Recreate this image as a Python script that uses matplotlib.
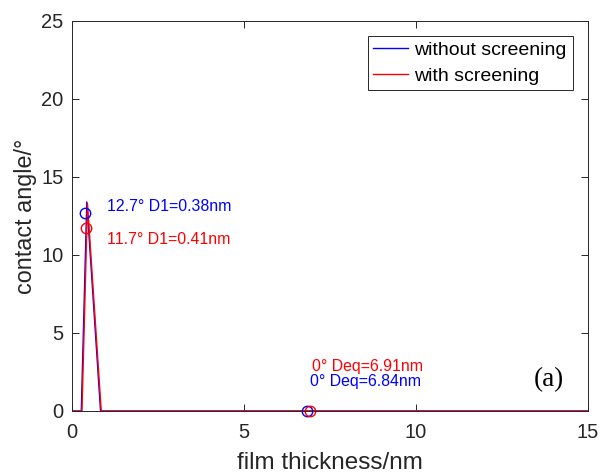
import matplotlib
matplotlib.use("Agg")
import matplotlib.pyplot as plt

# data
x_without = [0.0, 0.27, 0.43, 0.83, 15.0]
y_without = [0.0, 0.0, 13.4, 0.0, 0.0]
x_with = [0.0, 0.29, 0.45, 0.85, 15.0]
y_with = [0.0, 0.0, 13.3, 0.0, 0.0]

d1_without, th1_without = 0.38, 12.7
d1_with, th1_with = 0.41, 11.7
deq_without, deq_with = 6.84, 6.91

xticks = [0, 5, 10, 15]
yticks = [0, 5, 10, 15, 20, 25]

plt.rcParams['font.family'] = ['Liberation Sans', 'DejaVu Sans']

fig = plt.figure(figsize=(6.01, 4.75), dpi=100)
ax = fig.add_axes([72/601, 1-411/475, (588-72)/601, (411-21)/475])

ax.plot(x_without, y_without, color='blue', lw=1.0, label='without screening')
ax.plot(x_with, y_with, color='red', lw=1.0, label='with screening')

ax.plot([d1_without], [th1_without], 'o', mfc='none', mec='blue', ms=7.5)
ax.plot([d1_with], [th1_with], 'o', mfc='none', mec='red', ms=7.5)
ax.plot([deq_without], [0], 'o', mfc='none', mec='blue', ms=7.5, clip_on=False)
ax.plot([deq_with], [0], 'o', mfc='none', mec='red', ms=7.5, clip_on=False)

ax.text(1.02, 13.1, f"{th1_without}° D1={d1_without}nm", color='blue', fontsize=11.4, va='center')
ax.text(1.02, 11.0, f"{th1_with}° D1={d1_with}nm", color='red', fontsize=11.4, va='center')
ax.text(6.98, 2.88, f"0° Deq={deq_with}nm", color='red', fontsize=11.4, va='center')
ax.text(6.92, 1.86, f"0° Deq={deq_without}nm", color='blue', fontsize=11.4, va='center')
ax.text(13.42, 2.0, "(a)", fontsize=19.5, va='center', family=['Liberation Serif'])

ax.set_xlim(0, 15)
ax.set_ylim(0, 25)
ax.set_xticks(xticks)
ax.set_yticks(yticks)
ax.tick_params(direction='in', top=True, right=True, labelsize=14.5, length=5, width=0.7,
               colors='#262626', labelcolor='#262626')
ax.tick_params(axis='x', pad=9)
ax.tick_params(axis='y', pad=6)
for s in ax.spines.values():
    s.set_linewidth(0.7)
    s.set_color('#262626')
ax.set_xlabel('film thickness/nm', fontsize=17.5, color='#262626', labelpad=7)
ax.set_ylabel('contact angle/°', fontsize=16.8, color='#262626', labelpad=3)

leg = ax.legend(loc='upper right', bbox_to_anchor=(0.97, 0.962), fontsize=14, fancybox=False,
                framealpha=1, edgecolor='#262626', handlelength=1.8, handletextpad=0.3,
                borderpad=0.3, labelspacing=0.4, borderaxespad=0)
leg.get_frame().set_linewidth(0.7)

fig.savefig('out.png', dpi=100)
